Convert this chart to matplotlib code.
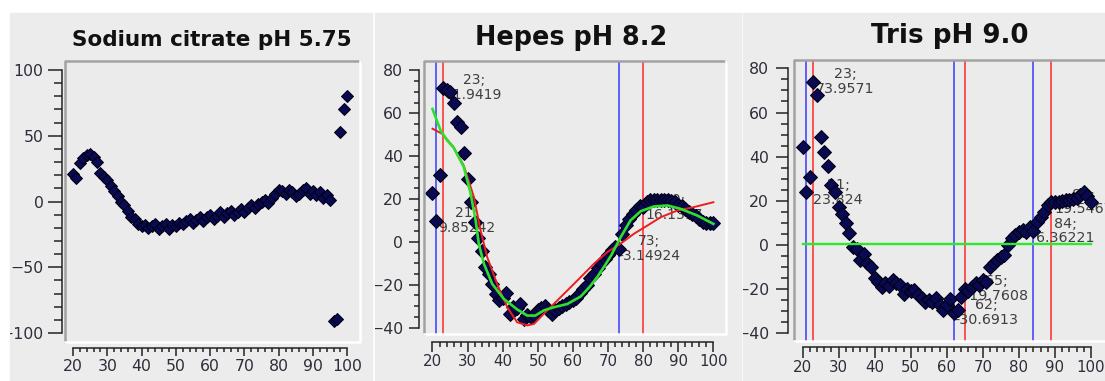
import matplotlib
matplotlib.use("Agg")
import matplotlib.pyplot as plt
from matplotlib.patches import Rectangle
from matplotlib.ticker import FixedLocator

W, H = 1105, 381

# temperature axis shared by the three screens
temps = list(range(20, 101))

citrate_y = [21, 18, 29, 33, 35, 36, 34, 30, 22, 19,
             16, 12, 8, 4, 0, -3, -7, -12, -13, -17,
             -19, -18, -20, -19, -17, -21, -19, -17, -21, -18,
             -19, -16, -17, -15, -13, -16, -14, -12, -15, -12,
             -10, -13, -11, -8, -12, -9, -7, -10, -8, -6,
             -8, -5, -3, -5, -2, 0, 1, -1, 3, 6,
             9, 8, 6, 9, 7, 4, 6, 9, 10, 6,
             8, 5, 7, 3, 5, 1, -91, -89, 53, 70,
             80]

hepes_y = [22.7, 9.85242, 31.4, 71.9419, 71, 70, 64.7, 56, 53.5, 41.4,
           29.4, 18.5, 9.2, 2, -4.3, -11.8, -15, -19.6, -24.3, -27,
           -26, -24, -33.6, -30.5, -31, -29, -36, -34, -35, -34,
           -32, -31, -30, -32, -33.6, -32, -31, -30, -29, -28,
           -27, -26, -24, -22, -20, -17, -15, -12, -10, -8,
           -6, -4, -2.5, -3.14924, 3.8, 8, 10.5, 13, 15, 16.5,
           16.1397, 18.5, 19.5, 19.6, 19.6, 19.5, 19.4, 19.3, 19, 18.5,
           17.4, 16.5, 15.4, 14, 13, 12, 10.5, 9.2, 9, 9,
           8.7]

tris_y = [44.5, 23.824, 30.9, 73.9571, 67.9, 49, 42.2, 35.9, 27, 24,
          17, 14, 10, 5.5, -1, -2, -7, -4, -8, -10,
          -15, -16.6, -19, -17.4, -18.5, -16, -17.4, -18, -22, -20,
          -21, -20.4, -22.7, -24, -25.7, -25, -25.7, -24.2, -27.2, -29.5,
          -27, -24.5, -30.6913, -29.5, -23.5, -19.7608, -21, -19, -17.4, -18,
          -16, -16.6, -10, -8.3, -6.8, -5.3, -4.5, 0, 3, 4.5,
          6, 6.8, 6, 8.3, 6.36221, 10.5, 12.8, 15, 18, 19.5467,
          19.6, 19.6, 20, 20.4, 20.4, 20.8, 21.1, 22.6, 24.1, 22,
          19.6]

# fitted curves on the Hepes screen
hepes_green_x = [20, 22.3, 24.2, 26, 28.9, 30.8, 32.3, 33.2, 34.6, 37, 40.3, 44.1, 47,
                 49.3, 51.7, 54.6, 58.4, 62.2, 64.5, 66.9, 69.3, 71, 73.6, 76.4, 79.3,
                 83, 86.9, 90.7, 95.4, 100]
hepes_green_y = [62, 52, 47.3, 44, 35, 23, 10, -1, -10, -19.6, -26.6, -31.5, -34.4,
                 -34.4, -32, -30.5, -29, -25.5, -21.5, -16.5, -10.5, -6, 2.2, 10, 14.3,
                 16.5, 17, 15.4, 12.3, 8.4]
hepes_red_x = [20, 22.8, 26, 28.9, 31.8, 33.7, 35.6, 38.4, 41.3, 44.1, 47, 48.9, 51.7,
               54.6, 58.4, 62.2, 66, 69.8, 73.6, 77.4, 81.2, 85, 89.7, 94.4, 100]
hepes_red_y = [52.8, 50.4, 44.2, 35.6, 20.9, 5.3, -7.2, -19.6, -30.5, -37.5, -39, -38.3,
               -33.6, -28.9, -22.7, -16.5, -10.2, -4.8, -0.8, 3.8, 7.6, 11.5, 14.6,
               16.2, 18.5]

hepes_blue = [21, 73]
hepes_red = [23, 80]
tris_blue = [21, 62, 84]
tris_red = [23, 65, 89]
tris_base_x = [20, 100]
tris_base_y = [0.3, 0.3]

citrate_yticks = list(range(-100, 101, 50))
citrate_yminor = list(range(-100, 101, 10))
small_yticks = list(range(-40, 81, 20))
small_yminor = list(range(-40, 81, 5))
xticks = list(range(20, 101, 10))
xminor = list(range(20, 101, 2))

fig = plt.figure(figsize=(W / 100, H / 100), dpi=100)
fig.patch.set_facecolor("white")

# grey window backgrounds of the three screenshots
windows = []
for x0, x1 in [(10, 372), (375, 741), (743, 1105)]:
    rect = Rectangle((x0 / W, 0), (x1 - x0) / W, (H - 13) / H,
                     transform=fig.transFigure, color="#ececec", zorder=-5)
    fig.patches.append(rect)
    windows.append(rect)

tick_col = "#2e2e3a"


def panel(box, win, xlim, ylim, yt, ym, ybounds, offs, ylen, xlen, yfs, xfs, ypad):
    l, t, r, b = box
    ax = fig.add_axes([l / W, 1 - b / H, (r - l) / W, (b - t) / H])
    ax.set_facecolor("#ebebeb")
    for s in ("top", "right"):
        ax.spines[s].set_visible(False)
    ax.spines["left"].set_position(("outward", offs[0]))
    ax.spines["bottom"].set_position(("outward", offs[1]))
    ax.spines["left"].set_bounds(*ybounds)
    ax.spines["bottom"].set_bounds(20, 100)
    for s in ("left", "bottom"):
        ax.spines[s].set_color("#222222")
        ax.spines[s].set_linewidth(1.1)
    ax.xaxis.set_major_locator(FixedLocator(xticks))
    ax.xaxis.set_minor_locator(FixedLocator(xminor))
    ax.yaxis.set_major_locator(FixedLocator(yt))
    ax.yaxis.set_minor_locator(FixedLocator(ym))
    ax.tick_params(axis="y", which="major", length=ylen[0], width=1.1, color="#222222",
                   labelsize=yfs, labelcolor=tick_col, pad=ypad)
    ax.tick_params(axis="y", which="minor", length=ylen[1], width=1.1, color="#222222")
    ax.tick_params(axis="x", which="major", length=xlen[0], width=1.1, color="#222222",
                   labelsize=xfs, labelcolor=tick_col, pad=1.5)
    ax.tick_params(axis="x", which="minor", length=xlen[1], width=1.1, color="#222222")
    for lbl in ax.get_yticklabels() + ax.get_xticklabels():
        lbl.set_clip_path(win)
    # sunken frame of the plot area
    ax.plot([0, 0, 1], [0, 1, 1], transform=ax.transAxes, color="#a2a2a2", lw=1.8,
            clip_on=False, zorder=6)
    ax.plot([1, 1, 0], [1, 0, 0], transform=ax.transAxes, color="white", lw=1.8,
            clip_on=False, zorder=6)
    ax.set_xlim(*xlim)
    ax.set_ylim(*ylim)
    return ax


def points(ax, ys, ms):
    ax.plot(temps, ys, linestyle="none", marker="D", ms=ms, mfc="#0a0a52",
            mec="#000010", mew=0.7, zorder=3)


def marks(ax, ys, blue, red, fs, dx):
    for xv in blue:
        ax.axvline(xv, color="#3a3aff", lw=1.1, zorder=1.5)
    for xv in red:
        ax.axvline(xv, color="#ff2626", lw=1.1, zorder=1.5)
    for xv in sorted(blue + red):
        yv = ys[temps.index(xv)]
        ax.annotate(f"{xv};\n{yv:g}", xy=(xv, yv), xytext=(dx, 0),
                    textcoords="offset points", ha="center", va="center",
                    multialignment="center", fontsize=fs, color="#3f3f3f",
                    linespacing=1.05, zorder=2, annotation_clip=False)


# Sodium citrate
ax1 = panel((65, 61, 360, 342), windows[0], (17.67, 103.7), (-106.8, 106.8), citrate_yticks,
            citrate_yminor, (-100, 100), (2.2, 4.3), (9.8, 5.6), (6.1, 3.2), 11.3, 11.3, 3.4)
points(ax1, citrate_y, 6.6)
fig.text(212 / W, 1 - 46 / H, "Sodium citrate pH 5.75", ha="center", va="baseline",
         fontsize=15.5, fontweight="bold", color="#111111")

# Hepes
ax2 = panel((423.5, 61, 726, 334), windows[1], (17.44, 103.6), (-43.0, 84.4), small_yticks,
            small_yminor, (-40, 80), (3.3, 5.8), (7.2, 3.6), (7.2, 3.6), 11.3, 10.8, 4.2)
marks(ax2, hepes_y, hepes_blue, hepes_red, 10, 22)
points(ax2, hepes_y, 7.0)
ax2.plot(hepes_red_x, hepes_red_y, color="#ee1c1c", lw=1.4, zorder=4)
ax2.plot(hepes_green_x, hepes_green_y, color="#2ee02e", lw=1.9, zorder=4)
fig.text(571 / W, 1 - 45 / H, "Hepes pH 8.2", ha="center", va="baseline",
         fontsize=18.4, fontweight="bold", color="#111111")

# Tris
ax3 = panel((793.5, 60, 1108, 341), windows[2], (17.5, 104.7), (-43.5, 83.8), small_yticks,
            small_yminor, (-40, 80), (4.3, 4.3), (8.4, 5.0), (8.1, 3.6), 11.3, 10.8, 4.8)
marks(ax3, tris_y, tris_blue, tris_red, 10.3, 23)
points(ax3, tris_y, 7.3)
ax3.plot(tris_base_x, tris_base_y, color="#2ee82e", lw=1.7, zorder=4)
fig.text(950 / W, 1 - 42.7 / H, "Tris pH 9.0", ha="center", va="baseline",
         fontsize=18.8, fontweight="bold", color="#111111")

fig.savefig("out.png", dpi=100)
